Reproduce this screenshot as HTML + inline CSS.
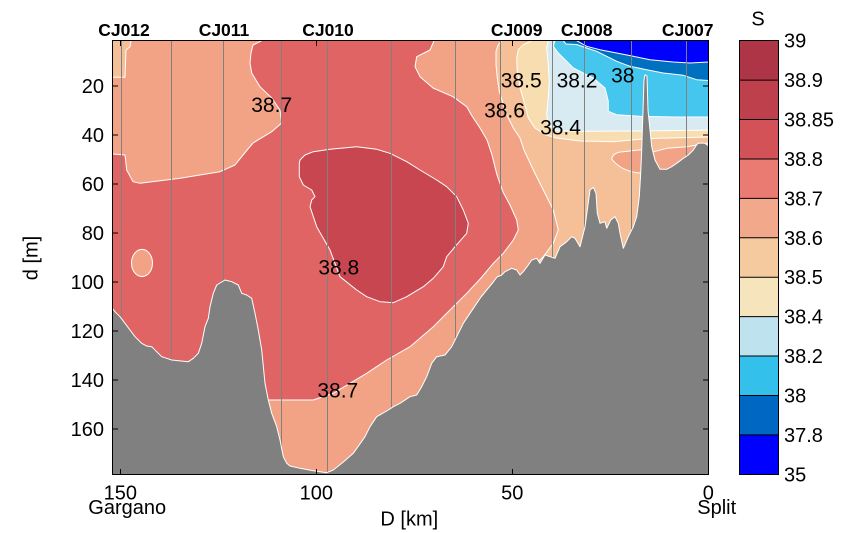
<!DOCTYPE html>
<html>
<head>
<meta charset="utf-8">
<style>
html,body{margin:0;padding:0;background:#fff;}
svg{display:block;}
text{font-family:"Liberation Sans",Arial,sans-serif;fill:#000;}
</style>
</head>
<body>
<svg width="860" height="533" viewBox="0 0 860 533" xmlns="http://www.w3.org/2000/svg">
<defs>
<clipPath id="pc"><rect x="112.5" y="40.5" width="596" height="434"/></clipPath>
</defs>
<rect x="0" y="0" width="860" height="533" fill="#fff"/>

<g clip-path="url(#pc)" stroke="#fff" stroke-width="1" stroke-linejoin="round">
  <rect x="100" y="30" width="630" height="460" fill="#E06464" stroke="none"/>
  <path fill="#F2A385" d="M100,30 L261.7,30 L261.7,40.7 L253,45 L251,53 L250,63 L251.7,73 L260,86.7 L271.7,98 L280,110 L281.7,123 L271.7,131.7 L253,143 L243,155 L235,165 L220,171.7 L180,178.3 L140,183.3 L133,181.7 L126.7,170 L125,155 L112.3,154 L100,154 Z"/>
  <path fill="#F5BF97" d="M100,30 L131,30 L131,40.7 L130,46.7 L126,50 L125,77.3 L100,77.3 Z"/>
  <ellipse cx="142" cy="263" rx="10.5" ry="13.6" fill="#F2A385"/>
  <path fill="#F2A385" d="M434,30 L434,40.7 L430,50 L416.7,56.7 L415,66.7 L420,76.7 L433,88 L453,96.7 L466.7,106.7 L472,116 L480,128 L487,140 L492,155 L497,175 L503,192 L510,205 L516.7,220 L518.3,230 L513.3,240 L503.3,253.3 L493.3,263.3 L481,278 L466.7,293.3 L450,310 L433.3,326.7 L410,346.7 L386.7,360 L366.7,373.3 L350,383.3 L333.3,393.3 L313.3,400 L268,400 L255,400 L255,490 L720,490 L720,30 Z"/>
  <path fill="#C84650" d="M300,160 L305,155 L313.3,151.7 L330,149.3 L356.7,146.7 L376.7,149.3 L390,153.3 L406.7,161.7 L420,170 L436.7,180 L446.7,186.7 L456.7,196.7 L463.3,210 L468.3,223.3 L466.7,233.3 L455,246.7 L446.7,256.7 L443.3,266.7 L433.3,278.3 L423.3,286.7 L406.7,296.7 L393.3,302.7 L380,301.7 L366.7,296.7 L356.7,290 L340,276.7 L330,250 L316.7,226.7 L310,206.7 L311.7,200 L315,196.7 L311.7,190 L303.3,185 L299.3,176.7 L299.3,163.3 Z"/>
  <path fill="#F5BF97" d="M501.7,30 L501.7,40.7 L498.3,44.7 L496,51.3 L496,64.7 L497.3,78 L499.3,91.3 L503.3,104.7 L506.7,114.7 L513.3,128 L520,138 L524,150 L533.3,170 L543.3,190 L553.3,210 L558.3,230 L553.3,243.3 L543.3,256.7 L536,264 L530,300 L720,300 L720,30 Z"/>
  <path fill="#F8DDB0" d="M531.7,30 L531.7,40.7 L523.3,44.7 L518.3,49.7 L516.7,58 L517.3,71.3 L520,88 L525,104.7 L528.3,118 L535,128 L545,134.7 L556.7,138 L580,141 L613,141.7 L643,139 L660,138.3 L720,136.7 L720,30 Z"/>
  <path fill="#D8EBF2" d="M548.3,30 L548.3,40.7 L546.7,48 L548.3,64.7 L549.3,81.3 L548.3,98 L546.7,114.7 L548.3,124.7 L556.7,130.7 L580,131.3 L640,131 L720,130 L720,30 Z"/>
  <path fill="#44C6EE" d="M555,30 L555,40.7 L553.3,46.3 L558.3,53 L566.7,61.3 L573.3,68 L580,71.3 L593.3,78 L605,88 L608.3,101.3 L608.3,111.3 L616.7,114.7 L640,116.3 L673.3,117 L720,117 L720,30 Z"/>
  <path fill="#0070C0" d="M563.3,30 L563.3,40.7 L566,44 L576.7,44.5 L586.7,48 L596.7,51.3 L606.7,56.3 L616.7,61.3 L630,66.3 L646.7,69.7 L663.3,73 L683.3,75.3 L696.7,79.7 L720,81.3 L720,30 Z"/>
  <path fill="#0000FF" d="M576.7,30 L576.7,40.7 L586.7,46.3 L600,49.7 L616.7,53 L633.3,56.3 L650,59.7 L673.3,62 L690,63 L720,61.3 L720,30 Z"/>
  <path fill="#F2A385" d="M611.7,159 Q613,152 623.3,151.7 L643,149.5 L643,173 L636.7,172.7 Q620,170 611.7,159 Z"/>
  <path fill="#F2A385" d="M648,153.3 L666.7,148.3 L686.7,146.7 L706.7,143.3 L720,143 L720,200 L648,200 Z"/>
</g>

<g stroke="#808080" stroke-width="1" clip-path="url(#pc)">
  <line x1="121.5" y1="40" x2="121.5" y2="475"/>
  <line x1="171.5" y1="40" x2="171.5" y2="475"/>
  <line x1="223.5" y1="40" x2="223.5" y2="475"/>
  <line x1="281.5" y1="40" x2="281.5" y2="475"/>
  <line x1="327.5" y1="40" x2="327.5" y2="475"/>
  <line x1="391.5" y1="40" x2="391.5" y2="475"/>
  <line x1="455.5" y1="40" x2="455.5" y2="475"/>
  <line x1="500.5" y1="40" x2="500.5" y2="475"/>
  <line x1="552.5" y1="40" x2="552.5" y2="475"/>
  <line x1="584.5" y1="40" x2="584.5" y2="475"/>
  <line x1="631.5" y1="40" x2="631.5" y2="475"/>
  <line x1="686.5" y1="40" x2="686.5" y2="475"/>
</g>

<g clip-path="url(#pc)">
<path fill="#808080" stroke="#fff" stroke-width="1" stroke-linejoin="round" d="M100,490 L100,306 L112.3,308.3 L115,311.7 L120,316.7 L125,323.3 L130,330 L135,336.7 L141.7,343.3 L146.7,346 L151.7,346.7 L156.7,351.7 L161.7,356.7 L166.7,358.3 L171.7,360 L188.3,361.7 L193.3,358.3 L198.3,353.3 L201.7,343.3 L205,326.7 L208.3,318.3 L210,306.7 L213.3,293.3 L216.7,285 L225,280 L231.7,281.7 L238.3,285 L241.7,293.3 L246.7,295 L251.7,298.3 L255,313.3 L258.3,330 L261.7,350 L265,383.3 L268.3,400 L271.7,413.3 L276.7,426.7 L280,440 L283.3,456.7 L286.7,463.3 L290,466 L300,468.3 L313.3,470.7 L326.7,472.7 L333.3,470 L343.3,462 L353.3,453.3 L365,436.7 L370,426.7 L376.7,416.7 L388.3,410 L393.3,406.7 L400,403.3 L410,396.7 L416.7,395 L421.7,386.7 L426.7,376.7 L431.7,363.3 L436.7,356.7 L445,355 L451.7,346.7 L456.7,336.7 L463.3,323.3 L470,313.3 L476.7,303.3 L481,297 L486.7,290 L493.3,282 L497,277 L501.7,275 L505,271.7 L511.7,268.3 L516.7,270 L520,275 L523.3,271.7 L528.3,265 L531.7,260 L536.7,258.3 L540,263.3 L545,255 L550,256.7 L555,258.3 L560,246.7 L566.7,241.7 L571.7,236.7 L575,238.3 L580,246.7 L585,226.7 L587.3,210 L590,190 L593.3,187.3 L596,193.3 L597.3,213.3 L600,223.3 L605,221.7 L606.7,228.3 L610.7,220 L615,216.7 L618.3,223.3 L620,233.3 L623.3,248.3 L628.3,236.7 L633.3,226.7 L636.7,216.7 L639.3,196.7 L640.7,173.3 L641.7,150 L643,110 L644,80 L645,74.7 L647,76 L648,110 L650,130 L651.7,146.7 L655,160 L660,169.3 L666.7,169.3 L671.7,166.7 L676.7,163.3 L683.3,158.3 L688.3,155 L693.3,150 L696.7,144.7 L698.3,143.3 L701.7,143 L705,143.3 L708.7,146 L720,146 L720,490 Z"/>
</g>

<g font-size="21" text-anchor="middle">
  <text x="271.7" y="111.8">38.7</text>
  <text x="338.8" y="274.5">38.8</text>
  <text x="337.8" y="397.5">38.7</text>
  <text x="521.2" y="87.7">38.5</text>
  <text x="504.5" y="117.7">38.6</text>
  <text x="560.5" y="134.5">38.4</text>
  <text x="577" y="87.7">38.2</text>
  <text x="622.8" y="82.3">38</text>
</g>

<rect x="112.5" y="40.5" width="596" height="434" fill="none" stroke="#000" stroke-width="1"/>
<g stroke="#000" stroke-width="1">
  <line x1="120.5" y1="474.5" x2="120.5" y2="469"/>
  <line x1="316.5" y1="474.5" x2="316.5" y2="469"/>
  <line x1="512.5" y1="474.5" x2="512.5" y2="469"/>
  <line x1="120.5" y1="40.5" x2="120.5" y2="46"/>
  <line x1="316.5" y1="40.5" x2="316.5" y2="46"/>
  <line x1="512.5" y1="40.5" x2="512.5" y2="46"/>
  <line x1="112.5" y1="86" x2="118" y2="86"/>
  <line x1="112.5" y1="135" x2="118" y2="135"/>
  <line x1="112.5" y1="184" x2="118" y2="184"/>
  <line x1="112.5" y1="233" x2="118" y2="233"/>
  <line x1="112.5" y1="282" x2="118" y2="282"/>
  <line x1="112.5" y1="331" x2="118" y2="331"/>
  <line x1="112.5" y1="380" x2="118" y2="380"/>
  <line x1="112.5" y1="429" x2="118" y2="429"/>
  <line x1="708.5" y1="86" x2="703" y2="86"/>
  <line x1="708.5" y1="135" x2="703" y2="135"/>
  <line x1="708.5" y1="184" x2="703" y2="184"/>
  <line x1="708.5" y1="233" x2="703" y2="233"/>
  <line x1="708.5" y1="282" x2="703" y2="282"/>
  <line x1="708.5" y1="331" x2="703" y2="331"/>
  <line x1="708.5" y1="380" x2="703" y2="380"/>
  <line x1="708.5" y1="429" x2="703" y2="429"/>
</g>

<g font-size="20" text-anchor="end">
  <text x="104" y="93">20</text>
  <text x="104" y="142">40</text>
  <text x="104" y="191">60</text>
  <text x="104" y="240">80</text>
  <text x="104" y="289">100</text>
  <text x="104" y="338">120</text>
  <text x="104" y="387">140</text>
  <text x="104" y="436">160</text>
</g>
<g font-size="20" text-anchor="middle">
  <text x="120.3" y="499.5">150</text>
  <text x="316.3" y="499.5">100</text>
  <text x="512.3" y="499.5">50</text>
  <text x="708.3" y="499.5">0</text>
  <text x="127.2" y="514">Gargano</text>
  <text x="716.7" y="514">Split</text>
  <text x="409.3" y="525.5">D [km]</text>
</g>
<text font-size="20" text-anchor="middle" transform="translate(37.5,258) rotate(-90)">d [m]</text>

<g font-size="17.5" font-weight="bold" text-anchor="middle">
  <text x="124" y="36">CJ012</text>
  <text x="224" y="36">CJ011</text>
  <text x="328" y="36">CJ010</text>
  <text x="516.7" y="36">CJ009</text>
  <text x="586.7" y="36">CJ008</text>
  <text x="687.7" y="36">CJ007</text>
</g>

<g>
  <rect x="739.5" y="40.7" width="39" height="39.42" fill="#AE3545"/>
  <rect x="739.5" y="80.12" width="39" height="39.42" fill="#BF404D"/>
  <rect x="739.5" y="119.54" width="39" height="39.42" fill="#D25257"/>
  <rect x="739.5" y="158.96" width="39" height="39.42" fill="#EA7B73"/>
  <rect x="739.5" y="198.38" width="39" height="39.42" fill="#F2A88A"/>
  <rect x="739.5" y="237.8" width="39" height="39.42" fill="#F5CA9F"/>
  <rect x="739.5" y="277.22" width="39" height="39.42" fill="#F5E4BC"/>
  <rect x="739.5" y="316.64" width="39" height="39.42" fill="#BEE3EE"/>
  <rect x="739.5" y="356.06" width="39" height="39.42" fill="#33C1EB"/>
  <rect x="739.5" y="395.48" width="39" height="39.42" fill="#0068C2"/>
  <rect x="739.5" y="434.9" width="39" height="39.42" fill="#0000FF"/>
  <g stroke="#000" stroke-width="1">
    <line x1="739.5" y1="80.12" x2="778.5" y2="80.12"/>
    <line x1="739.5" y1="119.54" x2="778.5" y2="119.54"/>
    <line x1="739.5" y1="158.96" x2="778.5" y2="158.96"/>
    <line x1="739.5" y1="198.38" x2="778.5" y2="198.38"/>
    <line x1="739.5" y1="237.8" x2="778.5" y2="237.8"/>
    <line x1="739.5" y1="277.22" x2="778.5" y2="277.22"/>
    <line x1="739.5" y1="316.64" x2="778.5" y2="316.64"/>
    <line x1="739.5" y1="356.06" x2="778.5" y2="356.06"/>
    <line x1="739.5" y1="395.48" x2="778.5" y2="395.48"/>
    <line x1="739.5" y1="434.9" x2="778.5" y2="434.9"/>
  </g>
  <rect x="739.5" y="40.5" width="39" height="434" fill="none" stroke="#000" stroke-width="1"/>
</g>
<g font-size="20">
  <text x="784" y="47.7">39</text>
  <text x="784" y="87.1">38.9</text>
  <text x="784" y="126.5">38.85</text>
  <text x="784" y="166">38.8</text>
  <text x="784" y="205.4">38.7</text>
  <text x="784" y="244.8">38.6</text>
  <text x="784" y="284.2">38.5</text>
  <text x="784" y="323.6">38.4</text>
  <text x="784" y="363.1">38.2</text>
  <text x="784" y="402.5">38</text>
  <text x="784" y="441.9">37.8</text>
  <text x="784" y="481.3">35</text>
</g>
<text x="758" y="25.5" font-size="20" text-anchor="middle">S</text>
</svg>
</body>
</html>
